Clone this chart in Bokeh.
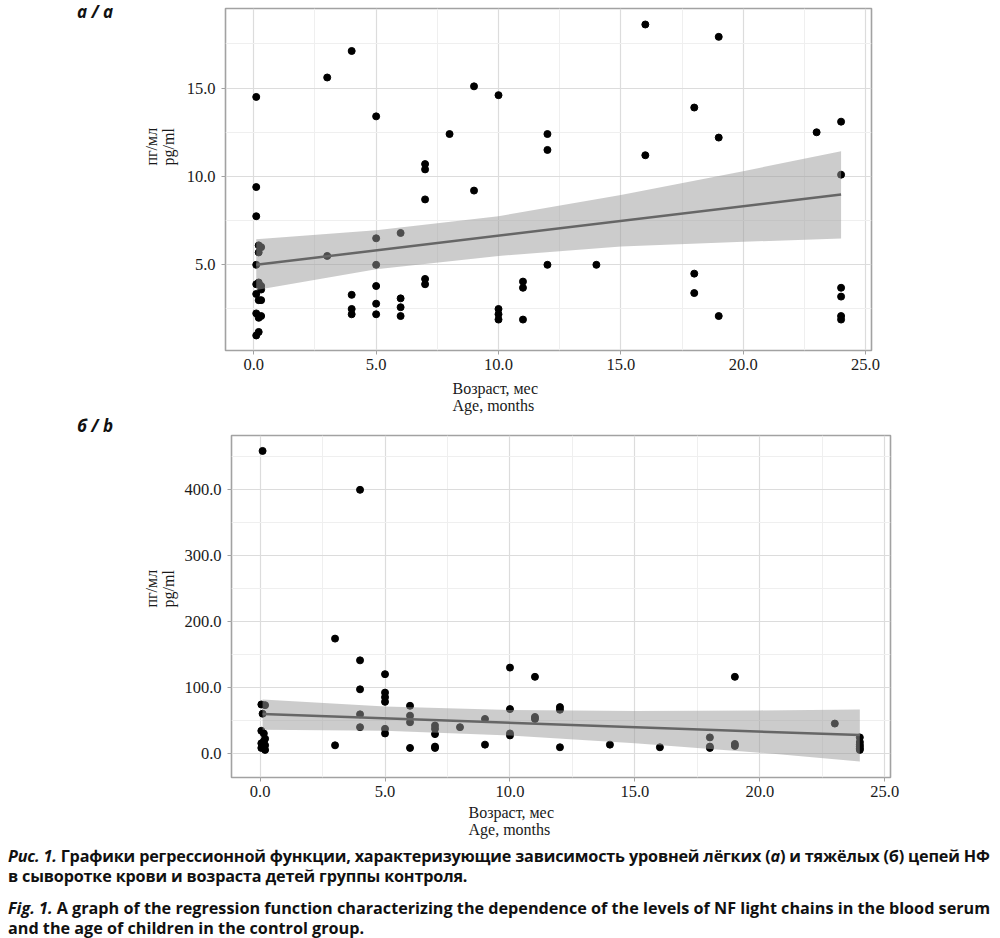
from bokeh.plotting import figure
from bokeh.layouts import column, row
from bokeh.models import FixedTicker, NumeralTickFormatter, Range1d, Div, Title
from bokeh.embed import file_html
from bokeh.resources import INLINE

# ---------------- data: panel a (NF light chains) ----------------
age_a = [0.1, 0.1, 0.1, 0.1, 0.1, 0.1, 0.1, 0.1,
         0.2, 0.2, 0.2, 0.2, 0.2, 0.2,
         0.3, 0.3, 0.3, 0.3, 0.3,
         3, 3, 4, 4, 4, 4, 5, 5, 5, 5, 5, 5, 6, 6, 6, 6,
         7, 7, 7, 7, 7, 8, 9, 9, 10, 10, 10, 10, 11, 11, 11,
         12, 12, 12, 14, 16, 16, 18, 18, 18, 19, 19, 19, 23,
         24, 24, 24, 24, 24, 24]
nfl_a = [14.5, 9.4, 7.75, 5.0, 3.9, 3.35, 2.25, 1.0,
         6.1, 5.7, 4.0, 3.0, 2.0, 1.2,
         6.0, 3.6, 3.0, 2.1, 3.8,
         15.6, 5.5, 17.1, 3.3, 2.5, 2.2, 13.4, 6.5, 5.0, 3.8, 2.8, 2.2, 6.8, 3.1, 2.6, 2.1,
         10.7, 10.4, 8.7, 4.2, 3.9, 12.4, 15.1, 9.2, 14.6, 2.5, 2.2, 1.9, 4.05, 3.7, 1.9,
         12.4, 11.5, 5.0, 5.0, 18.6, 11.2, 13.9, 4.5, 3.4, 17.9, 12.2, 2.1, 12.5,
         13.1, 10.1, 3.7, 3.2, 2.1, 1.9]

# regression line and 95% band of panel a
fit_x_a = [0.1, 5, 10, 15, 20, 24]
fit_a = [5.0, 5.82, 6.65, 7.48, 8.31, 8.98]
lower_a = [3.58, 4.75, 5.5, 6.03, 6.3, 6.49]
upper_a = [6.45, 6.95, 7.75, 8.95, 10.3, 11.43]

# ---------------- data: panel b (NF heavy chains) ----------------
age_b = [0.05, 0.2, 0.1, 0.1, 0.05, 0.15, 0.2, 0.05, 0.15, 0.2, 0.1, 0.05, 0.2,
         3, 3, 4, 4, 4, 4, 4, 5, 5, 5, 5, 5, 5, 6, 6, 6, 6,
         7, 7, 7, 7, 7, 8, 9, 9, 10, 10, 10, 10, 11, 11, 11,
         12, 12, 12, 14, 16, 18, 18, 18, 19, 19, 19, 23,
         24, 24, 24, 24, 24, 24]
nfh_b = [74, 73, 60, 459, 34, 30, 22, 15, 18, 12, 10, 8, 5,
         174, 12, 400, 141, 97, 59, 39.5, 120, 92, 85, 78, 37, 30, 72, 57, 47, 8,
         42, 37, 29, 10, 8, 39.5, 52, 13, 130, 67, 30, 27, 116, 55, 52,
         70, 66, 9, 13, 9, 24, 10, 8, 116, 14, 11, 45,
         24, 17, 13, 10, 7, 5]

# regression line and 95% band of panel b
fit_x_b = [0.1, 5, 10, 15, 20, 24]
fit_b = [59.5, 52.9, 46.2, 39.6, 33.0, 27.5]
lower_b = [35.5, 34.0, 27.0, 15.0, 0.8, -12.6]
upper_b = [81.5, 71.0, 65.5, 64.0, 65.0, 66.4]

x_ticks = [0, 5, 10, 15, 20, 25]
x_minor = [2.5, 7.5, 12.5, 17.5, 22.5]
y_ticks_a = [5, 10, 15]
y_minor_a = [2.5, 7.5, 12.5, 17.5]
y_ticks_b = [0, 100, 200, 300, 400]
y_minor_b = [50, 150, 250, 350, 450]

x_title = "Возраст, мес\nAge, months"
y_title = "пг/мл\npg/ml"

SERIF = "Liberation Serif"


def make_panel(xv, yv, fx, fy, lo, hi, xr, yr, yt, ym, frame_w, frame_h, bl, bt, bb,
               xt_offset, xt_standoff, yt_offset, yt_standoff):
    p = figure(frame_width=frame_w, frame_height=frame_h,
               x_range=Range1d(*xr), y_range=Range1d(*yr),
               output_backend="svg", toolbar_location=None,
               min_border_left=bl, min_border_right=30, min_border_top=bt, min_border_bottom=bb)
    p.background_fill_color = "white"
    p.border_fill_color = "white"
    p.outline_line_color = "#a2a2a2"
    p.outline_line_width = 1.6
    p.xaxis.ticker = FixedTicker(ticks=x_ticks, minor_ticks=x_minor)
    p.yaxis.ticker = FixedTicker(ticks=yt, minor_ticks=ym)
    p.xaxis.formatter = NumeralTickFormatter(format="0.0")
    p.yaxis.formatter = NumeralTickFormatter(format="0.0")
    for ax in (p.xaxis, p.yaxis):
        ax.axis_line_color = None
        ax.major_tick_line_color = "#a2a2a2"
        ax.major_tick_out = 4
        ax.major_tick_in = 0
        ax.minor_tick_line_color = None
        ax.major_label_text_font = SERIF
        ax.major_label_text_font_size = "16.5px"
        ax.major_label_text_color = "#1a1a1a"
    p.xaxis.major_label_standoff = 4
    p.yaxis.major_label_standoff = 6
    for g in (p.xgrid, p.ygrid):
        g.grid_line_color = "#dcdcdc"
        g.grid_line_width = 1.2
        g.minor_grid_line_color = "#efefef"
        g.minor_grid_line_width = 1
    p.scatter(xv, yv, size=7, color="black")
    p.varea(x=fx, y1=lo, y2=hi, fill_color="#999999", fill_alpha=0.5)
    p.line([fx[0], fx[-1]], [fy[0], fy[-1]], line_color="#666666", line_width=2.5)

    p.add_layout(Title(text=x_title, align="left", offset=xt_offset, text_font=SERIF,
                       text_font_size="16px", text_font_style="normal",
                       text_color="#1a1a1a", standoff=xt_standoff), "below")
    p.add_layout(Title(text=y_title, align="left", offset=yt_offset, text_font=SERIF,
                       text_font_size="16px", text_font_style="normal",
                       text_color="#1a1a1a", standoff=yt_standoff), "left")
    return p


# page-pixel -> data mappings
def ax_a(px):
    return (px - 253.3) / 24.47


def ay_a(py):
    return 5 + (264.3 - py) / 17.67


def bx_b(px):
    return (px - 259.3) / 25.0


def by_b(py):
    return (752.7 - py) / 0.6585


pa = make_panel(age_a, nfl_a, fit_x_a, fit_a, lower_a, upper_a,
                (ax_a(225), ax_a(871)), (ay_a(350), ay_a(8)),
                y_ticks_a, y_minor_a, 646, 342, 105, 8, 60, 227, 10, 185, 13)

pb = make_panel(age_b, nfh_b, fit_x_b, fit_b, lower_b, upper_b,
                (bx_b(230.7), bx_b(890)), (by_b(777), by_b(435)),
                y_ticks_b, y_minor_b, 659, 342, 111, 15, 70, 237, 5, 170, 10)

TAG_STYLE = ("font-family:'Open Sans',sans-serif;font-weight:bold;font-style:italic;"
             "font-size:17px;line-height:17px;color:#111;padding-left:77px;white-space:nowrap;")

tag_a = Div(width=120, height=420, margin=0,
            text="<div style=\"%s margin-top:3px;\">а / a</div>" % TAG_STYLE)
tag_b = Div(width=120, height=427, margin=0,
            text="<div style=\"%s margin-top:-10px;\">б / b</div>" % TAG_STYLE)

caption = Div(width=1000, margin=0, text=(
    "<div style=\"font-family:'Open Sans',sans-serif;"
    "font-weight:bold;font-size:16.2px;line-height:19.5px;color:#111;white-space:nowrap;"
    "padding-top:0px;padding-left:8px;\">"
    "<p style='margin:0 0 13px 0;letter-spacing:-0.17px;'><i>Рис. 1.</i> Графики регрессионной функции, "
    "характеризующие зависимость уровней лёгких (<i>а</i>) и тяжёлых (б) цепей НФ<br>"
    "в сыворотке крови и возраста детей группы контроля.</p>"
    "<p style='margin:0'><i>Fig. 1.</i> A graph of the regression function characterizing the dependence of "
    "the levels of NF light chains in the blood serum<br>and the age of children in the control group.</p>"
    "</div>"))

layout = column(row(tag_a, pa, spacing=0), row(tag_b, pb, spacing=0), caption, spacing=0)
open("out.html", "w").write(file_html(layout, INLINE))
